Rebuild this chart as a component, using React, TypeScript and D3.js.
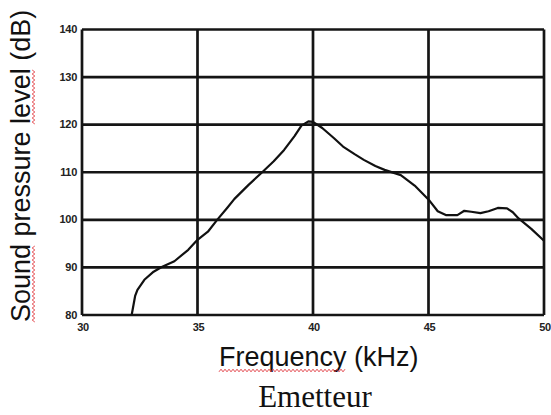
import * as d3 from "d3";

// Emitter response
const freq = [
  32.15, 32.3, 32.4, 32.7, 33.1, 33.45, 34.0, 34.6, 35.0, 35.45, 35.85, 36.3,
  36.6, 37.2, 37.8, 38.3, 38.75, 39.2, 39.5, 39.8, 40.0, 40.4, 40.9, 41.3,
  41.8, 42.2, 42.7, 43.1, 43.8, 44.4, 45.05, 45.4, 45.75, 46.25, 46.55, 46.85,
  47.25, 47.6, 48.0, 48.4, 48.65, 48.9, 49.45, 50.0,
];
const spl = [
  80, 84.0, 85.3, 87.4, 89.1, 90.1, 91.3, 93.7, 95.8, 97.5, 100, 102.6,
  104.4, 107.3, 110, 112.3, 114.7, 117.6, 119.8, 120.7, 120.6, 119.3, 117.2,
  115.4, 113.8, 112.6, 111.3, 110.5, 109.4, 107.2, 104.0, 101.8, 101, 101,
  101.9, 101.7, 101.4, 101.8, 102.5, 102.4, 101.6, 100.3, 98.1, 95.6,
];
const xTicks = [30, 35, 40, 45, 50];
const yTicks = [80, 90, 100, 110, 120, 130, 140];

const xTitle = "Frequency (kHz)";
const yTitle = "Sound pressure level (dB)";
const caption = "Emetteur";

const width = 551;
const height = 415;
const left = 82;
const right = 544;
const top = 29.5;
const bottom = 315;

// red spell-check squiggle
const wavy = (x1: number, x2: number, y: number) => {
  const pts = d3.range(x1, x2, 2).map((x, i) => [x, y + (i % 2 ? -1.3 : 1.3)] as [number, number]);
  return d3.line()(pts) || "";
};

export default function App() {
  const x = d3.scaleLinear().domain([30, 50]).range([left, right]);
  const y = d3.scaleLinear().domain([80, 140]).range([bottom, top]);

  const pts = freq.map((f, i) => [x(f), y(spl[i])] as [number, number]);
  const line = d3.line().curve(d3.curveLinear)(pts) || "";

  return (
    <svg
      width={width}
      height={height}
      style={{ position: "absolute", left: 0, top: 0, background: "#fff" }}
    >
      {/* grid */}
      <g stroke="#151515" strokeWidth={2.7}>
        {yTicks.map((t) => (
          <line key={"h" + t} x1={left} x2={right} y1={y(t)} y2={y(t)} />
        ))}
        {xTicks.map((t) => (
          <line key={"v" + t} x1={x(t)} x2={x(t)} y1={top} y2={bottom} />
        ))}
      </g>

      {/* tick labels */}
      <g fontFamily="Arial, 'Liberation Sans', sans-serif" fontWeight="bold" fontSize={11} fill="#222">
        {yTicks.map((t) => (
          <text key={"yl" + t} x={left - 5} y={y(t) + 3.5} textAnchor="end" letterSpacing={-0.3}>
            {t}
          </text>
        ))}
        {xTicks.map((t) => (
          <text key={"xl" + t} x={x(t) + 1} y={bottom + 16} textAnchor="middle" letterSpacing={-0.3}>
            {t}
          </text>
        ))}
      </g>

      {/* curve */}
      <path d={line} fill="none" stroke="#111" strokeWidth={2.2} strokeLinejoin="round" />

      {/* titles */}
      <g fontFamily="Arial, 'Liberation Sans', sans-serif" fontSize={27} fill="#111">
        <text x={219} y={366}>{xTitle}</text>
        <g transform="translate(30,165) rotate(-90)">
          <text x={-157} y={0}>{yTitle}</text>
          <path d={wavy(-157, -79, 3.5)} fill="none" stroke="#e0393f" strokeWidth={0.9} />
          <path d={wavy(41, 96, 3.5)} fill="none" stroke="#e0393f" strokeWidth={0.9} />
        </g>
      </g>
      <path d={wavy(219, 347, 370.5)} fill="none" stroke="#e0393f" strokeWidth={0.9} />

      <text
        x={315}
        y={406.5}
        textAnchor="middle"
        fontFamily="'Times New Roman', 'Liberation Serif', serif"
        fontSize={31}
        fill="#111"
      >
        {caption}
      </text>
    </svg>
  );
}
